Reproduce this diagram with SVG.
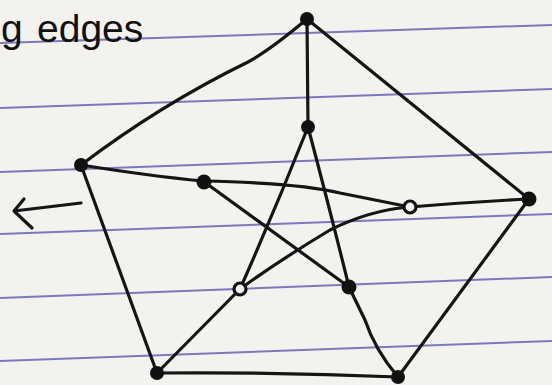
<svg xmlns="http://www.w3.org/2000/svg" width="552" height="385" viewBox="0 0 552 385">
<style>
.rule{stroke:#5f58b0;stroke-width:2;fill:none;opacity:0.8}
.e{stroke:#151515;stroke-width:3.2;fill:none;stroke-linecap:round;stroke-linejoin:round}
.dot{fill:#111}
.ring{fill:#f4f2ee;stroke:#111;stroke-width:3.2}
.t{font-family:"Liberation Sans",Arial,sans-serif;font-size:39px;fill:#111}
</style>
<rect width="552" height="385" fill="#f4f2ee"/>
<g id="paper-lines">
<line class="rule" x1="0" y1="43" x2="552" y2="25"/>
<line class="rule" x1="0" y1="108" x2="552" y2="89"/>
<line class="rule" x1="0" y1="172" x2="552" y2="152"/>
<line class="rule" x1="0" y1="234" x2="552" y2="214"/>
<line class="rule" x1="0" y1="298" x2="552" y2="277"/>
<line class="rule" x1="0" y1="361" x2="552" y2="341"/>
</g>
<g id="heading">
<text class="t" x="1" y="42">g</text>
<text class="t" x="37" y="42">edges</text>
</g>
<g id="arrow">
<path class="e" d="M81 203 L14 211 M24 199 L14 211 L32 228"/>
</g>
<g id="connectors">
<path class="e" d="M307 19 Q270 50 248 62 Q160 105 81 165"/>
<path class="e" d="M307 19 L529 199"/>
<path class="e" d="M307 19 L308 127"/>
<path class="e" d="M81 165 L157 373"/>
<path class="e" d="M157 373 Q280 372 398 377"/>
<path class="e" d="M398 377 L529 199"/>
<path class="e" d="M81 165 Q150 176 203 181"/>
<path class="e" d="M529 199 Q470 202 410 207"/>
<path class="e" d="M157 373 L240 289"/>
<path class="e" d="M398 377 Q375 350 365 320 L349 287"/>
<path class="e" d="M308 127 Q275 210 240 289"/>
<path class="e" d="M308 127 Q330 210 349 287"/>
<path class="e" d="M203 181 L349 287"/>
<path class="e" d="M203 181 Q300 183 340 193 Q380 201 410 207"/>
<path class="e" d="M410 207 Q370 210 330 230 Q280 260 240 289"/>
</g>
<g id="n-top"><circle class="dot" cx="307" cy="19" r="7"/></g>
<g id="n-left"><circle class="dot" cx="81" cy="165" r="7"/></g>
<g id="n-right"><circle class="dot" cx="529" cy="199" r="7.5"/></g>
<g id="n-bottom-left"><circle class="dot" cx="157" cy="373" r="7"/></g>
<g id="n-bottom-right"><circle class="dot" cx="398" cy="377" r="7"/></g>
<g id="n-inner-top"><circle class="dot" cx="308" cy="127" r="7"/></g>
<g id="n-inner-left"><circle class="dot" cx="204" cy="182" r="7.5"/></g>
<g id="n-inner-right"><circle class="ring" cx="410" cy="207" r="6"/></g>
<g id="n-inner-bottom-left"><circle class="ring" cx="240" cy="289" r="6"/></g>
<g id="n-inner-bottom-right"><circle class="dot" cx="349" cy="287" r="7.5"/></g>
</svg>
